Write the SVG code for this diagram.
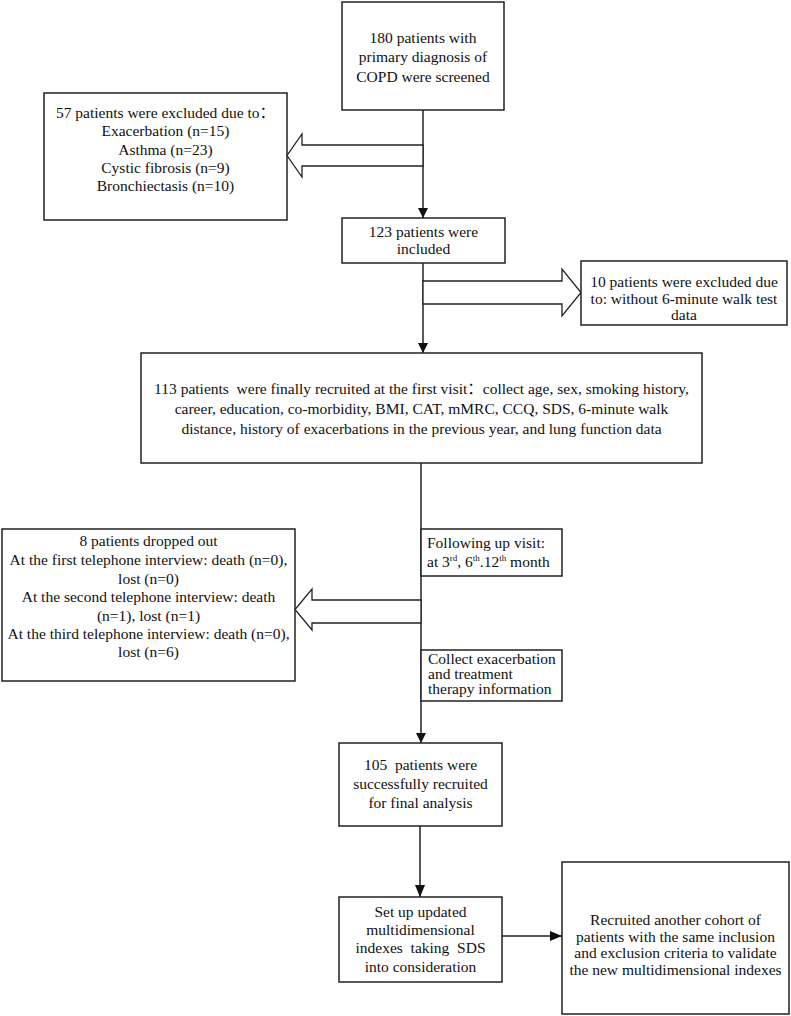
<svg xmlns="http://www.w3.org/2000/svg" width="791" height="1016" viewBox="0 0 791 1016">
<defs>
<style>
.box{fill:#fff;stroke:#222;stroke-width:1.5}
.ln{fill:none;stroke:#222;stroke-width:1.5}
.blk{fill:#fff;stroke:#222;stroke-width:1.3;stroke-linejoin:miter}
text{font-family:"Liberation Serif","Noto Sans CJK SC",serif;font-size:15.5px;fill:#111}
.c{text-anchor:middle}
</style>
<marker id="ah" viewBox="0 0 10 10" refX="10" refY="5" markerWidth="10" markerHeight="10" markerUnits="userSpaceOnUse" orient="auto">
<path d="M0,0 L10,5 L0,10 z" fill="#111"/>
</marker>
<marker id="ah2" viewBox="0 0 12 10" refX="12" refY="5" markerWidth="12" markerHeight="10" markerUnits="userSpaceOnUse" orient="auto">
<path d="M0,0 L12,5 L0,10 z" fill="#111"/>
</marker>
</defs>
<rect width="791" height="1016" fill="#fff"/>
<g id="connectors">
<line class="ln" x1="423" y1="110" x2="423" y2="218" marker-end="url(#ah)"/>
<line class="ln" x1="423" y1="263" x2="423" y2="353" marker-end="url(#ah)"/>
<line class="ln" x1="421" y1="463" x2="421" y2="743" marker-end="url(#ah)"/>
<line class="ln" x1="420" y1="826" x2="420" y2="897" marker-end="url(#ah2)"/>
<line class="ln" x1="502" y1="936" x2="562" y2="936" marker-end="url(#ah2)"/>
<polygon class="blk" points="423,145 302,145 302,134 287,155.5 302,177 302,166 423,166"/>
<polygon class="blk" points="423,281 562,281 562,269 581,292.5 562,316 562,304 423,304"/>
<polygon class="blk" points="421,600 312,600 312,589 295,609.5 312,630 312,623 421,623"/>
</g>
<g id="n_screened">
<rect class="box" x="342" y="2" width="162" height="108"/>
<text class="c" x="423" y="43">180 patients with</text>
<text class="c" x="423" y="62">primary diagnosis of</text>
<text class="c" x="423" y="82">COPD were screened</text>
</g>
<g id="n_excluded57">
<rect class="box" x="44" y="93" width="243" height="127"/>
<text class="c" x="165.5" y="118">57 patients were excluded due to：</text>
<text class="c" x="165.5" y="136">Exacerbation (n=15)</text>
<text class="c" x="165.5" y="155">Asthma (n=23)</text>
<text class="c" x="165.5" y="173">Cystic fibrosis (n=9)</text>
<text class="c" x="165.5" y="191">Bronchiectasis (n=10)</text>
</g>
<g id="n_included">
<rect class="box" x="342" y="218" width="163" height="45"/>
<text class="c" x="423.5" y="237">123 patients were</text>
<text class="c" x="423.5" y="254">included</text>
</g>
<g id="n_excluded10">
<rect class="box" x="581" y="261" width="206" height="64"/>
<text class="c" x="684" y="287">10 patients were excluded due</text>
<text class="c" x="684" y="304">to: without 6-minute walk test</text>
<text class="c" x="684" y="320">data</text>
</g>
<g id="n_recruited113">
<rect class="box" x="141" y="353" width="561" height="110"/>
<text class="c" x="421.5" y="394" xml:space="preserve">113 patients  were finally recruited at the first visit：collect age, sex, smoking history,</text>
<text class="c" x="421.5" y="414">career, education, co-morbidity, BMI, CAT, mMRC, CCQ, SDS, 6-minute walk</text>
<text class="c" x="421.5" y="434">distance, history of exacerbations in the previous year, and lung function data</text>
</g>
<g id="n_dropped">
<rect class="box" x="2" y="529" width="293" height="152"/>
<text class="c" x="148.5" y="546">8 patients dropped out</text>
<text class="c" x="148.5" y="565">At the first telephone interview: death (n=0),</text>
<text class="c" x="148.5" y="584">lost (n=0)</text>
<text class="c" x="148.5" y="602">At the second telephone interview: death</text>
<text class="c" x="148.5" y="621">(n=1), lost (n=1)</text>
<text class="c" x="148.5" y="639">At the third telephone interview: death (n=0),</text>
<text class="c" x="148.5" y="657">lost (n=6)</text>
</g>
<g id="l_followup">
<rect class="box" x="421" y="529" width="141" height="47"/>
<text x="427" y="548">Following up visit:</text>
<text x="427" y="567">at 3<tspan font-size="9" dy="-6">rd</tspan><tspan dy="6">, 6</tspan><tspan font-size="9" dy="-6">th</tspan><tspan dy="6">.12</tspan><tspan font-size="9" dy="-6">th</tspan><tspan dy="6"> month</tspan></text>
</g>
<g id="l_collect">
<rect class="box" x="421" y="650" width="141" height="51"/>
<text x="428" y="664">Collect exacerbation</text>
<text x="428" y="679">and treatment</text>
<text x="428" y="694">therapy information</text>
</g>
<g id="n_final105">
<rect class="box" x="339" y="743" width="163" height="83"/>
<text class="c" x="420.5" y="770" xml:space="preserve">105  patients were</text>
<text class="c" x="420.5" y="789">successfully recruited</text>
<text class="c" x="420.5" y="808">for final analysis</text>
</g>
<g id="n_setup">
<rect class="box" x="339" y="897" width="163" height="85"/>
<text class="c" x="420.5" y="917">Set up updated</text>
<text class="c" x="420.5" y="935">multidimensional</text>
<text class="c" x="420.5" y="953" xml:space="preserve">indexes  taking  SDS</text>
<text class="c" x="420.5" y="972">into consideration</text>
</g>
<g id="n_validate">
<rect class="box" x="562" y="862" width="227" height="152"/>
<text class="c" x="675.5" y="925">Recruited another cohort of</text>
<text class="c" x="675.5" y="942">patients with the same inclusion</text>
<text class="c" x="675.5" y="958">and exclusion criteria to validate</text>
<text class="c" x="675.5" y="975">the new multidimensional indexes</text>
</g>
</svg>
